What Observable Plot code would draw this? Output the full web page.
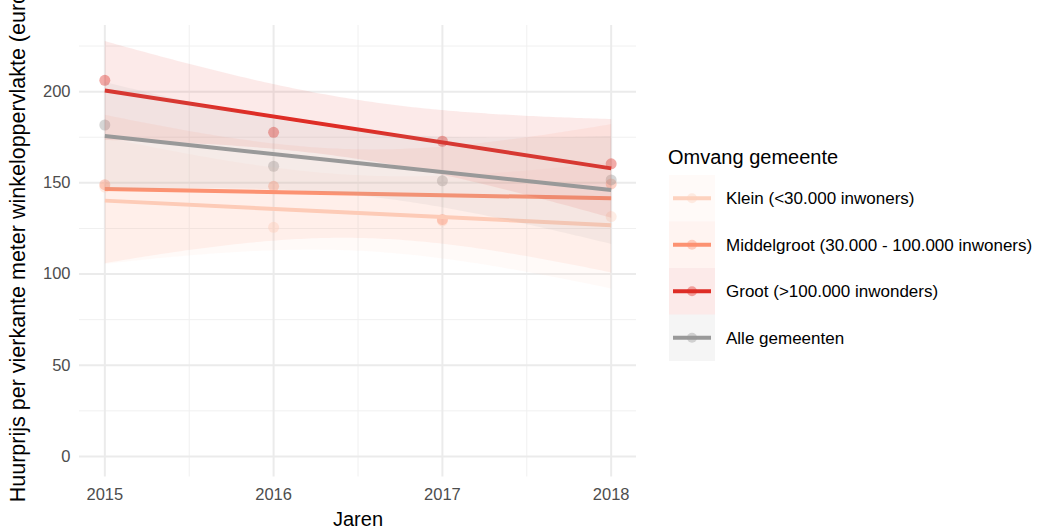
<!DOCTYPE html>
<html>
<head>
<meta charset="utf-8">
<script src="https://cdn.jsdelivr.net/npm/d3@7"></script>
<script src="https://cdn.jsdelivr.net/npm/@observablehq/plot@0.6"></script>
<style>
  html, body { margin: 0; padding: 0; background: white; overflow: hidden; }
  #wrap { position: relative; width: 1040px; height: 529px; font-family: "Liberation Sans", Arial, sans-serif; }
  #legend { position: absolute; left: 0; top: 0; pointer-events: none; }
</style>
</head>
<body>
<div id="wrap"></div>
<script>
// ---- data ----
const years = [2015, 2016, 2017, 2018];
const groups = [
  "Klein (<30.000 inwoners)",
  "Middelgroot (30.000 - 100.000 inwoners)",
  "Groot (>100.000 inwonders)",
  "Alle gemeenten"
];
const klein = [147.7, 125.6, 129.2, 131.5];
const middelgroot = [149.0, 148.1, 129.9, 149.4];
const groot = [206.2, 177.7, 172.8, 160.4];
const alle = [181.7, 159.1, 151.1, 151.6];
const colors = ["#fdd2bf", "#fc9272", "#de2d26", "#999999"];

const xTicks = [2015, 2016, 2017, 2018];
const xMinorTicks = [2015.5, 2016.5, 2017.5];
const yTicks = [0, 50, 100, 150, 200];
const yMinorTicks = [25, 75, 125, 175, 225];

const xTitle = "Jaren";
const yTitle = "Huurprijs per vierkante meter winkeloppervlakte (euro)";
const legendTitle = "Omvang gemeente";

const series = [klein, middelgroot, groot, alle];
const data = groups.flatMap((g, i) => years.map((yr, j) => ({group: g, year: yr, value: series[i][j]})));

const font = "'Liberation Sans', Arial, sans-serif";

const chart = Plot.plot({
  width: 1040,
  height: 529,
  marginLeft: 79,
  marginRight: 404,
  marginTop: 25,
  marginBottom: 52.5,
  style: {fontFamily: font, background: "white", overflow: "hidden"},
  x: {domain: [2014.85, 2018.15]},
  y: {domain: [-11.25, 236.25]},
  color: {domain: groups, range: colors},
  marks: [
    Plot.ruleX(xMinorTicks, {stroke: "#f0f0f0", strokeWidth: 1}),
    Plot.ruleY(yMinorTicks, {stroke: "#f0f0f0", strokeWidth: 1}),
    Plot.ruleX(xTicks, {stroke: "#ebebeb", strokeWidth: 2}),
    Plot.ruleY(yTicks, {stroke: "#ebebeb", strokeWidth: 2}),
    Plot.axisX(xTicks, {tickSize: 0, tickPadding: 11, tickFormat: d => String(d), fontSize: 16.5, fill: "#4d4d4d", label: null}),
    Plot.axisY(yTicks, {tickSize: 0, tickPadding: 9, fontSize: 16.5, fill: "#4d4d4d", label: null}),
    Plot.text([xTitle], {text: d => d, frameAnchor: "bottom", lineAnchor: "middle", dy: 43, fontSize: 20, fill: "black"}),
    Plot.text([yTitle], {text: d => d, frameAnchor: "left", lineAnchor: "middle", rotate: -90, textAnchor: "start", dx: -61, dy: 251, fontSize: 21.5, fill: "black"}),
    Plot.dot(data, {x: "year", y: "value", fill: "group", fillOpacity: 0.4, r: 5.5}),
    Plot.linearRegressionY(data, {x: "year", y: "value", stroke: "group", fill: "group", fillOpacity: 0.1, strokeWidth: 4, strokeLinecap: "butt", clip: true})
  ]
});

const wrap = document.getElementById("wrap");
wrap.appendChild(chart);

// ---- legend ----
const leg = d3.select(wrap).append("svg")
  .attr("id", "legend")
  .attr("width", 1040).attr("height", 529)
  .style("font-family", font);

leg.append("text")
  .attr("x", 668).attr("y", 157).attr("dy", "0.35em")
  .attr("font-size", 20).attr("fill", "black")
  .text(legendTitle);

const rowH = 46.5, top0 = 175;
groups.forEach((g, i) => {
  const y0 = top0 + i * rowH;
  const cy = y0 + rowH / 2;
  leg.append("rect").attr("x", 669).attr("y", y0).attr("width", 46).attr("height", rowH)
    .attr("fill", colors[i]).attr("fill-opacity", 0.1);
  leg.append("line").attr("x1", 673).attr("x2", 711).attr("y1", cy).attr("y2", cy)
    .attr("stroke", colors[i]).attr("stroke-width", 4);
  leg.append("circle").attr("cx", 692).attr("cy", cy).attr("r", 5)
    .attr("fill", colors[i]).attr("fill-opacity", 0.4);
  leg.append("text").attr("x", 726).attr("y", cy).attr("dy", "0.35em")
    .attr("font-size", 17).attr("fill", "black").text(g);
});
</script>
</body>
</html>
